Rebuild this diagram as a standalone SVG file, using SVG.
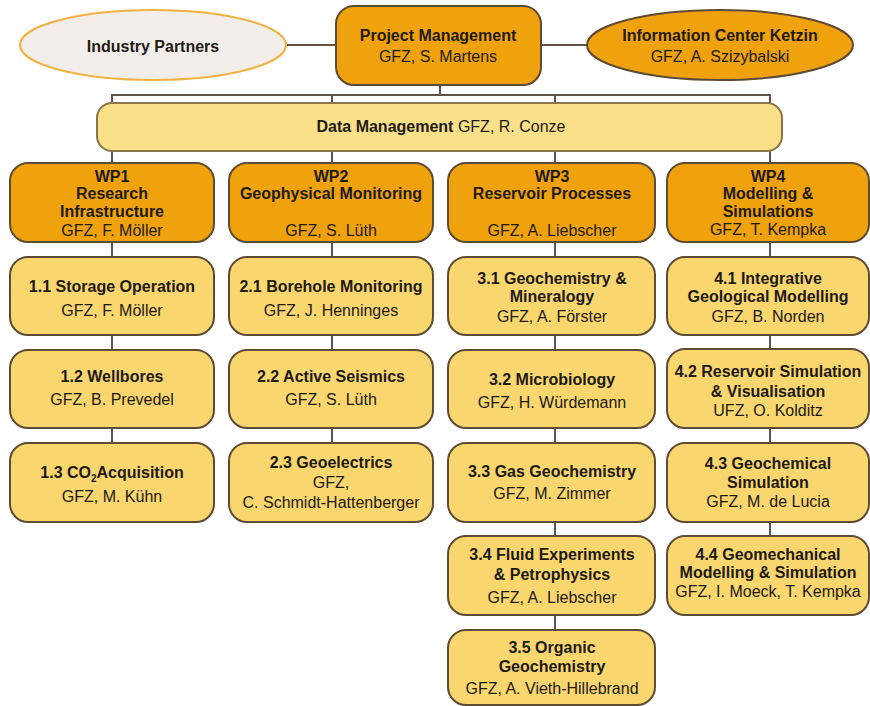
<svg xmlns="http://www.w3.org/2000/svg" width="870" height="706" viewBox="0 0 870 706">
<style>
.o{fill:#F0A20C;stroke:#5E4B33;stroke-width:2}
.y{fill:#F9D66E;stroke:#5E4B33;stroke-width:2}
.dm{fill:#F9E089;stroke:#8A7448;stroke-width:2}
.ip{fill:#F4EEEA;stroke:#F0B240;stroke-width:2}
.c{stroke:#5E5448;stroke-width:2;fill:none}
text{font-family:"Liberation Sans",Arial,sans-serif;font-size:16px;fill:#1E1A16;text-anchor:middle}
.b{font-weight:bold}
</style>
<rect width="870" height="706" fill="#FFFFFF"/>
<g id="connectors" class="c">
<line x1="286" y1="45" x2="336" y2="45"/>
<line x1="541" y1="45" x2="587" y2="45"/>
<line x1="440" y1="85" x2="440" y2="95"/>
<line x1="111" y1="95" x2="771" y2="95"/>
<line x1="112" y1="95" x2="112" y2="103"/>
<line x1="332" y1="95" x2="332" y2="103"/>
<line x1="555" y1="95" x2="555" y2="103"/>
<line x1="770" y1="95" x2="770" y2="103"/>
<line x1="112" y1="151" x2="112" y2="163"/>
<line x1="332" y1="151" x2="332" y2="163"/>
<line x1="555" y1="151" x2="555" y2="163"/>
<line x1="770" y1="151" x2="770" y2="163"/>
<line x1="112" y1="242" x2="112" y2="257"/>
<line x1="112" y1="335" x2="112" y2="350"/>
<line x1="112" y1="428" x2="112" y2="443"/>
<line x1="332" y1="242" x2="332" y2="257"/>
<line x1="332" y1="335" x2="332" y2="350"/>
<line x1="332" y1="428" x2="332" y2="443"/>
<line x1="555" y1="242" x2="555" y2="257"/>
<line x1="555" y1="335" x2="555" y2="350"/>
<line x1="555" y1="428" x2="555" y2="443"/>
<line x1="555" y1="522" x2="555" y2="536"/>
<line x1="555" y1="615" x2="555" y2="630"/>
<line x1="770" y1="242" x2="770" y2="257"/>
<line x1="770" y1="335" x2="770" y2="350"/>
<line x1="770" y1="428" x2="770" y2="443"/>
<line x1="770" y1="522" x2="770" y2="536"/>
</g>
<g id="industry">
<ellipse class="ip" cx="153" cy="45" rx="133" ry="35"/>
<text class="b" x="153" y="52">Industry Partners</text>
</g>
<g id="pm">
<rect class="o" x="336" y="6" width="205" height="79" rx="18"/>
<text class="b" x="438" y="41">Project Management</text>
<text x="438" y="62">GFZ, S. Martens</text>
</g>
<g id="infocenter">
<ellipse class="o" cx="720" cy="45" rx="133" ry="35"/>
<text class="b" x="720" y="41">Information Center Ketzin</text>
<text x="720" y="62">GFZ, A. Szizybalski</text>
</g>
<g id="dm">
<rect class="dm" x="97" y="103" width="685" height="48" rx="15"/>
<text x="441" y="132"><tspan class="b">Data Management</tspan> GFZ, R. Conze</text>
</g>
<g id="wp1">
<rect class="o" x="10" y="163" width="204" height="79" rx="18"/>
<text class="b" x="112" y="182">WP1</text>
<text class="b" x="112" y="199">Research</text>
<text class="b" x="112" y="217">Infrastructure</text>
<text x="112" y="236">GFZ, F. Möller</text>
</g>
<g id="wp2">
<rect class="o" x="229" y="163" width="204" height="79" rx="18"/>
<text class="b" x="331" y="182">WP2</text>
<text class="b" x="331" y="199">Geophysical Monitoring</text>
<text x="331" y="236">GFZ, S. Lüth</text>
</g>
<g id="wp3">
<rect class="o" x="448" y="163" width="207" height="79" rx="18"/>
<text class="b" x="552" y="182">WP3</text>
<text class="b" x="552" y="199">Reservoir Processes</text>
<text x="552" y="236">GFZ, A. Liebscher</text>
</g>
<g id="wp4">
<rect class="o" x="667" y="163" width="202" height="79" rx="18"/>
<text class="b" x="768" y="182">WP4</text>
<text class="b" x="768" y="199">Modelling &amp;</text>
<text class="b" x="768" y="217">Simulations</text>
<text x="768" y="235">GFZ, T. Kempka</text>
</g>
<g id="n11">
<rect class="y" x="10" y="257" width="204" height="78" rx="18"/>
<text class="b" x="112" y="292">1.1 Storage Operation</text>
<text x="112" y="316">GFZ, F. Möller</text>
</g>
<g id="n12">
<rect class="y" x="10" y="350" width="204" height="78" rx="18"/>
<text class="b" x="112" y="382">1.2 Wellbores</text>
<text x="112" y="405">GFZ, B. Prevedel</text>
</g>
<g id="n13">
<rect class="y" x="10" y="443" width="204" height="79" rx="18"/>
<text class="b" x="112" y="478">1.3 CO<tspan font-size="10" dy="4">2</tspan><tspan dy="-4">Acquisition</tspan></text>
<text x="112" y="502">GFZ, M. Kühn</text>
</g>
<g id="n21">
<rect class="y" x="229" y="257" width="204" height="78" rx="18"/>
<text class="b" x="331" y="292">2.1 Borehole Monitoring</text>
<text x="331" y="316">GFZ, J. Henninges</text>
</g>
<g id="n22">
<rect class="y" x="229" y="350" width="204" height="78" rx="18"/>
<text class="b" x="331" y="382">2.2 Active Seismics</text>
<text x="331" y="405">GFZ, S. Lüth</text>
</g>
<g id="n23">
<rect class="y" x="229" y="443" width="204" height="79" rx="18"/>
<text class="b" x="331" y="468">2.3 Geoelectrics</text>
<text x="331" y="488">GFZ,</text>
<text x="331" y="508">C. Schmidt-Hattenberger</text>
</g>
<g id="n31">
<rect class="y" x="448" y="257" width="207" height="78" rx="18"/>
<text class="b" x="552" y="284">3.1 Geochemistry &amp;</text>
<text class="b" x="552" y="302">Mineralogy</text>
<text x="552" y="322">GFZ, A. Förster</text>
</g>
<g id="n32">
<rect class="y" x="448" y="350" width="207" height="78" rx="18"/>
<text class="b" x="552" y="385">3.2 Microbiology</text>
<text x="552" y="408">GFZ, H. Würdemann</text>
</g>
<g id="n33">
<rect class="y" x="448" y="443" width="207" height="79" rx="18"/>
<text class="b" x="552" y="477">3.3 Gas Geochemistry</text>
<text x="552" y="499">GFZ, M. Zimmer</text>
</g>
<g id="n34">
<rect class="y" x="448" y="536" width="207" height="79" rx="18"/>
<text class="b" x="552" y="560">3.4 Fluid Experiments</text>
<text class="b" x="552" y="580">&amp; Petrophysics</text>
<text x="552" y="603">GFZ, A. Liebscher</text>
</g>
<g id="n35">
<rect class="y" x="448" y="630" width="207" height="75" rx="18"/>
<text class="b" x="552" y="653">3.5 Organic</text>
<text class="b" x="552" y="672">Geochemistry</text>
<text x="552" y="694">GFZ, A. Vieth-Hillebrand</text>
</g>
<g id="n41">
<rect class="y" x="667" y="257" width="202" height="78" rx="18"/>
<text class="b" x="768" y="284">4.1 Integrative</text>
<text class="b" x="768" y="302">Geological Modelling</text>
<text x="768" y="322">GFZ, B. Norden</text>
</g>
<g id="n42">
<rect class="y" x="667" y="349" width="202" height="79" rx="18"/>
<text class="b" x="768" y="377">4.2 Reservoir Simulation</text>
<text class="b" x="768" y="397">&amp; Visualisation</text>
<text x="768" y="416">UFZ, O. Kolditz</text>
</g>
<g id="n43">
<rect class="y" x="667" y="443" width="202" height="79" rx="18"/>
<text class="b" x="768" y="469">4.3 Geochemical</text>
<text class="b" x="768" y="488">Simulation</text>
<text x="768" y="507">GFZ, M. de Lucia</text>
</g>
<g id="n44">
<rect class="y" x="667" y="536" width="202" height="79" rx="18"/>
<text class="b" x="768" y="560">4.4 Geomechanical</text>
<text class="b" x="768" y="578">Modelling &amp; Simulation</text>
<text x="768" y="597">GFZ, I. Moeck, T. Kempka</text>
</g>
</svg>
